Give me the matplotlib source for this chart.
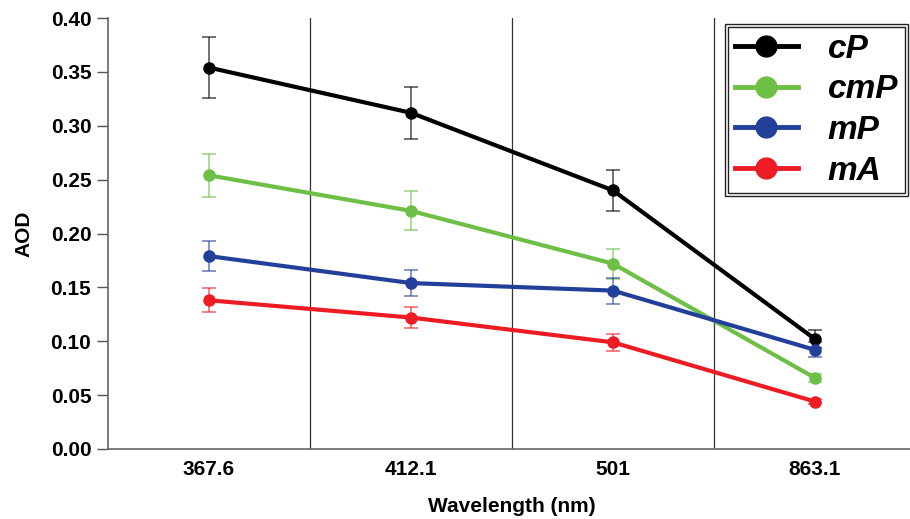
import numpy as np
import matplotlib
matplotlib.use('Agg')
import matplotlib.pyplot as plt
from matplotlib.lines import Line2D
from matplotlib.patches import Rectangle

plt.rcParams['font.family'] = ['Liberation Sans', 'DejaVu Sans']

WAVELENGTHS = ['367.6', '412.1', '501', '863.1']
SERIES = ['cP', 'cmP', 'mP', 'mA']
COLORS = ['#000000', '#6dbf45', '#22409a', '#ed1c24']

CP = [0.354, 0.312, 0.240, 0.102]
CMP = [0.254, 0.221, 0.172, 0.066]
MP = [0.179, 0.154, 0.147, 0.092]
MA = [0.138, 0.122, 0.099, 0.044]

CP_ERR = [0.028, 0.024, 0.019, 0.008]
CMP_ERR = [0.020, 0.018, 0.014, 0.004]
MP_ERR = [0.014, 0.012, 0.012, 0.007]
MA_ERR = [0.011, 0.010, 0.008, 0.002]

VALUES = [CP, CMP, MP, MA]
ERRORS = [CP_ERR, CMP_ERR, MP_ERR, MA_ERR]

fig = plt.figure(figsize=(9.1, 5.19), dpi=100)
ax = fig.add_axes([108/910, 1 - 449/519, 808/910, 431/519])

x = np.arange(len(WAVELENGTHS))
for vals, errs, c in zip(VALUES, ERRORS, COLORS):
    ax.errorbar(x, vals, yerr=errs, fmt='none', ecolor=c, alpha=0.6,
                elinewidth=1.3, capsize=5, capthick=1.3, zorder=2)
    ax.plot(x, vals, '-o', color=c, lw=3, ms=8, zorder=3)

# category separators
for b in x[:-1] + 0.5:
    ax.axvline(b, color='#333333', lw=0.9, zorder=1)

ax.set_xlim(-0.5, 3.5)
ax.set_ylim(0, 0.40)
ax.set_yticks(np.arange(0, 0.401, 0.05))
ax.set_yticklabels([f'{v:.2f}' for v in np.arange(0, 0.401, 0.05)])
ax.set_xticks(x)
ax.set_xticklabels(WAVELENGTHS)
ax.tick_params(axis='x', length=0, pad=8)
ax.tick_params(axis='y', length=8, width=1, color='#555555', pad=4)
for lab in ax.get_xticklabels() + ax.get_yticklabels():
    lab.set_fontsize(15)
    lab.set_fontweight('bold')

ax.spines['top'].set_visible(False)
ax.spines['right'].set_visible(False)
ax.spines['left'].set_color('#666666')
ax.spines['bottom'].set_color('#666666')
ax.spines['left'].set_linewidth(1.2)
ax.spines['bottom'].set_linewidth(1.2)

ax.set_xlabel('Wavelength (nm)', fontsize=15, fontweight='bold', labelpad=13)
ax.set_ylabel('AOD', fontsize=15, fontweight='bold', labelpad=12)

handles = [Line2D([], [], color=c, lw=3.5, marker='o', ms=15) for c in COLORS]
leg = fig.legend(handles, SERIES, loc='upper right',
                 bbox_to_anchor=(905/910, 1 - 27/519),
                 bbox_transform=fig.transFigure, borderaxespad=0,
                 fancybox=False, framealpha=1, edgecolor='#222222',
                 handlelength=1.9, handletextpad=0.9, labelspacing=0.29,
                 borderpad=0.2,
                 prop={'size': 24, 'weight': 'bold', 'style': 'italic'})
leg.get_frame().set_linewidth(1.0)

fig.canvas.draw()
bb = leg.get_window_extent().transformed(fig.transFigure.inverted())
dx, dy = 3/910, 3/519
fig.patches.append(Rectangle((bb.x0 - dx, bb.y0 - dy), bb.width + 2*dx, bb.height + 2*dy,
                             transform=fig.transFigure, fill=False,
                             edgecolor='#222222', lw=1.0))

fig.savefig('out.png', dpi=100)
